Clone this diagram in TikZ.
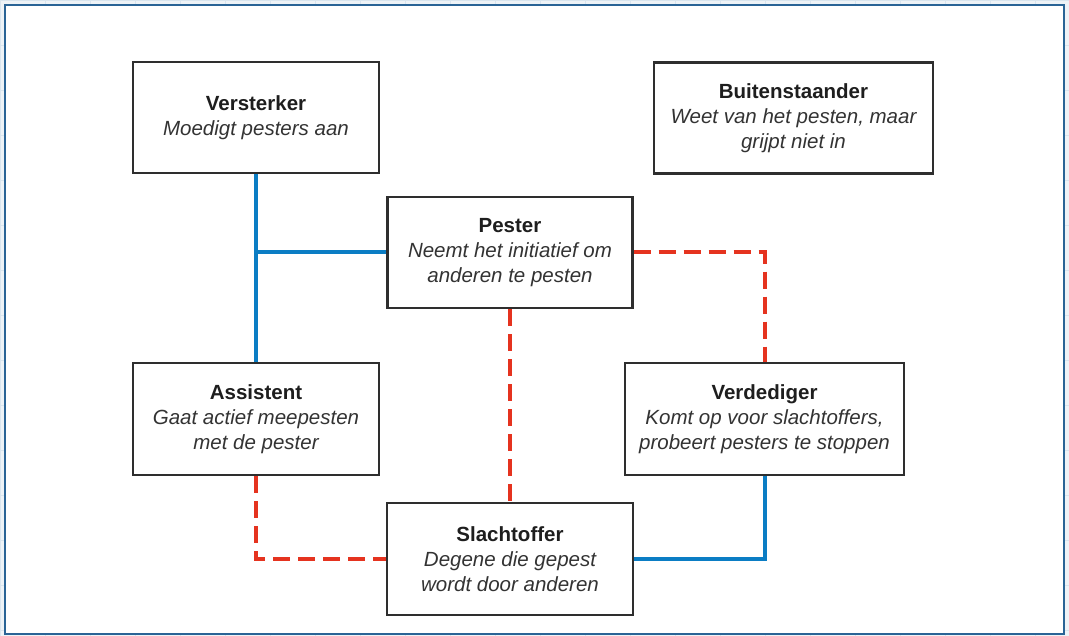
\documentclass[tikz,border=0pt]{standalone}
\usepackage{fontspec}
\setmainfont{Liberation Sans}
\definecolor{frameblue}{HTML}{2A6496}
\definecolor{bgout}{HTML}{EEF3F7}
\definecolor{gridc}{HTML}{D9E5EE}
\definecolor{lineblue}{HTML}{0B7DC4}
\definecolor{linered}{HTML}{E5331F}
\definecolor{boxline}{HTML}{2E2E2E}
\definecolor{txt}{HTML}{1E1E1E}
\definecolor{subtxt}{HTML}{333333}
\tikzset{
  rolebox/.style={draw=boxline, line width=2.4pt, fill=white, align=center,
    inner sep=0pt, text=txt, font=\fontsize{20.5}{25}\selectfont},
  bluelink/.style={draw=lineblue, line width=4pt},
  redlink/.style={draw=linered, line width=4pt, dash pattern=on 17pt off 8pt},
}
\newcommand{\subline}[1]{\textcolor{subtxt}{\itshape #1}}
\begin{document}
\begin{tikzpicture}[x=1pt,y=-1pt]
\useasboundingbox (0,0) rectangle (1069,636);
\fill[bgout] (0,0) rectangle (1069,636);
\draw[gridc, line width=0.8pt, step=45pt] (0,0) grid (1069,636);
\draw[frameblue, line width=1.6pt, fill=white] (5,5) rectangle (1064,634);

\node[rolebox, minimum width=246pt, minimum height=111pt] (vers) at (256,117.5)
  {\textbf{Versterker}\\\subline{Moedigt pesters aan}};
\node[rolebox, minimum width=279pt, minimum height=111pt] (buit) at (793.5,118)
  {\textbf{Buitenstaander}\\\subline{Weet van het pesten, maar}\\\subline{grijpt niet in}};
\node[rolebox, minimum width=245pt, minimum height=111pt] (pest) at (510,252.5)
  {\textbf{Pester}\\\subline{Neemt het initiatief om}\\\subline{anderen te pesten}};
\node[rolebox, minimum width=246pt, minimum height=112pt] (assi) at (256,419)
  {\textbf{Assistent}\\\subline{Gaat actief meepesten}\\\subline{met de pester}};
\node[rolebox, minimum width=279pt, minimum height=112pt] (verd) at (764.5,419)
  {\textbf{Verdediger}\\\subline{Komt op voor slachtoffers,}\\\subline{probeert pesters te stoppen}};
\node[rolebox, minimum width=246pt, minimum height=112pt] (slac) at (510,559)
  {\textbf{Slachtoffer}\\\subline{Degene die gepest}\\\subline{wordt door anderen}};

\draw[bluelink] (vers.south) -- (assi.north);
\draw[bluelink] (pest.west) -- (vers.south |- pest.west);
\draw[bluelink] (verd.south) |- (slac.east);
\draw[redlink] (pest.east) -| (verd.north);
\draw[redlink] (pest.south) -- (slac.north);
\draw[redlink] (assi.south) |- (slac.west);
\end{tikzpicture}
\end{document}
